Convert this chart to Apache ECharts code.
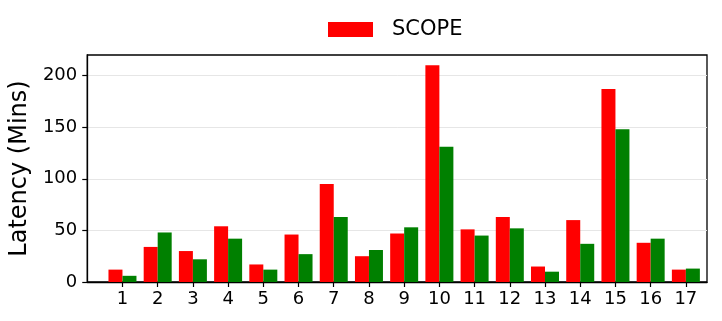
<!DOCTYPE html>
<html><head><meta charset="utf-8">
<script src="https://cdn.jsdelivr.net/npm/echarts@6/dist/echarts.min.js"></script>
<style>html,body{margin:0;padding:0;background:#fff}#c{width:722px;height:321px}</style>
</head><body><div id="c"></div>
<script>
const categories = [1,2,3,4,5,6,7,8,9,10,11,12,13,14,15,16,17];
const scopeValues = [12, 34, 30, 54, 17, 46, 95, 25, 47, 210, 51, 63, 15, 60, 187, 38, 12];
const otherValues = [6, 48, 22, 42, 12, 27, 63, 31, 53, 131, 45, 52, 10, 37, 148, 42, 13];
const yTicks = [0, 50, 100, 150, 200];

const F = 'DejaVu Sans';
const chart = echarts.init(document.getElementById('c'), null, {renderer:'canvas'});
chart.setOption({
  animation: false,
  backgroundColor: '#fff',
  legend: {
    data: ['SCOPE'], left: 323, top: 14, itemWidth: 45, itemHeight: 15,
    icon: 'rect',
    textStyle: {fontFamily: F, fontSize: 21, color: '#000', padding: [0,0,0,14]}
  },
  grid: {left: 86, right: 15, top: 55, bottom: 39, show: true, borderColor: '#000', borderWidth: 1.3, backgroundColor: 'transparent'},
  xAxis: {
    type: 'value', min: 0, max: 17.6, interval: 1,
    axisLine: {show: true, lineStyle: {color: '#000', width: 1.3}},
    axisTick: {show: true, length: 5, lineStyle: {color: '#000', width: 1.2}, customValues: categories},
    axisLabel: {fontFamily: F, fontSize: 18, color: '#000', margin: 8, customValues: categories},
    splitLine: {show: false}
  },
  yAxis: {
    type: 'value', min: 0, max: 220, interval: 50,
    name: 'Latency (Mins)', nameLocation: 'middle', nameGap: 48,
    nameTextStyle: {fontFamily: F, fontSize: 24, color: '#000'},
    axisLine: {show: true, lineStyle: {color: '#000', width: 1.3}},
    axisTick: {show: true, length: 5, lineStyle: {color: '#000', width: 1.2}, customValues: yTicks},
    axisLabel: {fontFamily: F, fontSize: 18, color: '#000', margin: 10, customValues: yTicks},
    splitLine: {show: true, lineStyle: {color: '#e6e6e6', width: 1}}
  },
  series: [
    {name: 'SCOPE', type: 'bar', barWidth: 14, barGap: '0%', itemStyle: {color: '#ff0000'},
     data: categories.map((c, i) => [c, scopeValues[i]])},
    {name: 'Other', type: 'bar', barWidth: 14, barGap: '0%', itemStyle: {color: '#008000'},
     data: categories.map((c, i) => [c, otherValues[i]])}
  ]
});
</script></body></html>
